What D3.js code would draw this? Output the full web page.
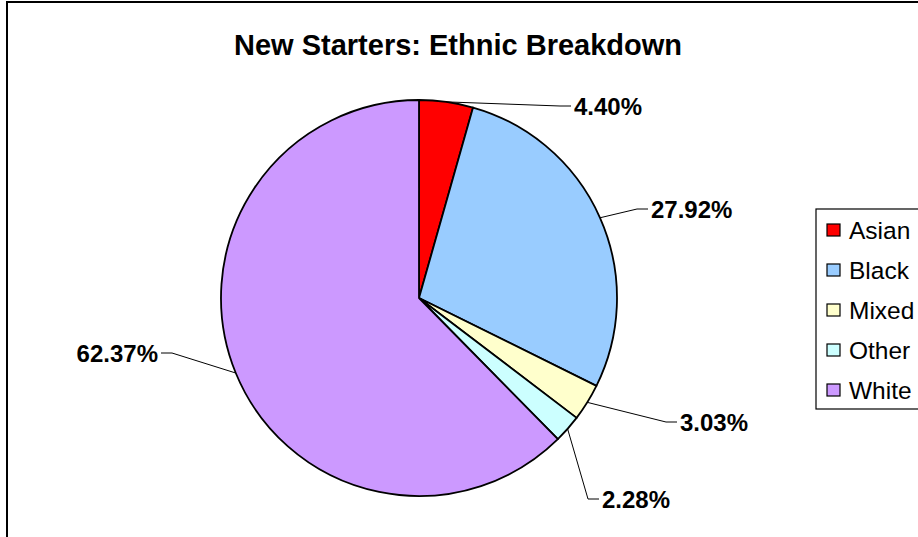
<!DOCTYPE html>
<html>
<head>
<meta charset="utf-8">
<script src="https://cdn.jsdelivr.net/npm/d3@7"></script>
<style>
  html, body { margin: 0; padding: 0; background: #fff; }
  svg { display: block; }
  text { font-family: Arial, "Liberation Sans", sans-serif; }
</style>
</head>
<body>
<svg id="chart" width="918" height="537"></svg>
<script>
// Ethnic breakdown of new starters (percent of total)
const categories = ["Asian", "Black", "Mixed", "Other", "White"];
const shares = [4.40, 27.92, 3.03, 2.28, 62.37];
const colors = ["#FF0000", "#99CCFF", "#FFFFCC", "#CCFFFF", "#CC99FF"];
const chartTitle = "New Starters: Ethnic Breakdown";

// Where each percentage label sits, relative to the pie centre
// (point on the label's near edge, vertically centred); side = which way the text runs
const labelAnchors = [
  { dx: 155, dy: -192, side: 1 },
  { dx: 232, dy: -89, side: 1 },
  { dx: 261, dy: 124, side: 1 },
  { dx: 183, dy: 201, side: 1 },
  { dx: -261, dy: 55, side: -1 }
];

const W = 918, H = 537;
const cx = 419, cy = 298, R = 198;

const svg = d3.select("#chart");

// Chart area frame
svg.append("rect")
  .attr("x", 7).attr("y", 2)
  .attr("width", W + 20).attr("height", H + 20)
  .attr("fill", "#fff")
  .attr("stroke", "#000").attr("stroke-width", 2);

svg.append("text")
  .attr("x", 458).attr("y", 55)
  .attr("text-anchor", "middle")
  .attr("font-size", 29).attr("font-weight", "bold")
  .text(chartTitle);

const data = categories.map((c, i) => ({ name: c, value: shares[i], color: colors[i], anchor: labelAnchors[i] }));

const pie = d3.pie().value(d => d.value).sort(null).startAngle(0).endAngle(2 * Math.PI);
const arc = d3.arc().innerRadius(0).outerRadius(R);
const arcs = pie(data);

const g = svg.append("g").attr("transform", `translate(${cx},${cy})`);

g.selectAll("path.slice")
  .data(arcs)
  .join("path")
  .attr("class", "slice")
  .attr("d", arc)
  .attr("fill", d => d.data.color)
  .attr("stroke", "#000")
  .attr("stroke-width", 1.8)
  .attr("stroke-linejoin", "round");

// Leader lines: from the middle of each slice's rim to the label, ending in a short horizontal run
g.selectAll("path.leader")
  .data(arcs)
  .join("path")
  .attr("class", "leader")
  .attr("fill", "none")
  .attr("stroke", "#000")
  .attr("stroke-width", 1)
  .attr("d", d => {
    const mid = (d.startAngle + d.endAngle) / 2;
    const x0 = R * Math.sin(mid), y0 = -R * Math.cos(mid);
    const a = d.data.anchor;
    const endX = a.dx - a.side * 3;
    const bendX = a.dx - a.side * 14;
    return d3.line()([[x0, y0], [bendX, a.dy], [endX, a.dy]]);
  });

g.selectAll("text.pct")
  .data(arcs)
  .join("text")
  .attr("class", "pct")
  .attr("x", d => d.data.anchor.dx)
  .attr("y", d => d.data.anchor.dy)
  .attr("dy", "0.36em")
  .attr("text-anchor", d => d.data.anchor.side > 0 ? "start" : "end")
  .attr("font-size", 24).attr("font-weight", "bold")
  .text(d => d.data.value.toFixed(2) + "%");

// Legend
const legend = svg.append("g").attr("transform", "translate(816,209)");
legend.append("rect")
  .attr("x", 0).attr("y", 0)
  .attr("width", 140).attr("height", 200)
  .attr("fill", "#fff")
  .attr("stroke", "#000").attr("stroke-width", 1.2);

const rowY = d3.scalePoint().domain(categories).range([21, 181]);

const rows = legend.selectAll("g.row")
  .data(data)
  .join("g")
  .attr("class", "row")
  .attr("transform", d => `translate(0,${rowY(d.name)})`);

rows.append("rect")
  .attr("x", 11).attr("y", -6)
  .attr("width", 13).attr("height", 12)
  .attr("fill", d => d.color)
  .attr("stroke", "#000").attr("stroke-width", 1.2);

rows.append("text")
  .attr("x", 33).attr("y", 0)
  .attr("dy", "0.36em")
  .attr("font-size", 24.5)
  .text(d => d.name);
</script>
</body>
</html>
